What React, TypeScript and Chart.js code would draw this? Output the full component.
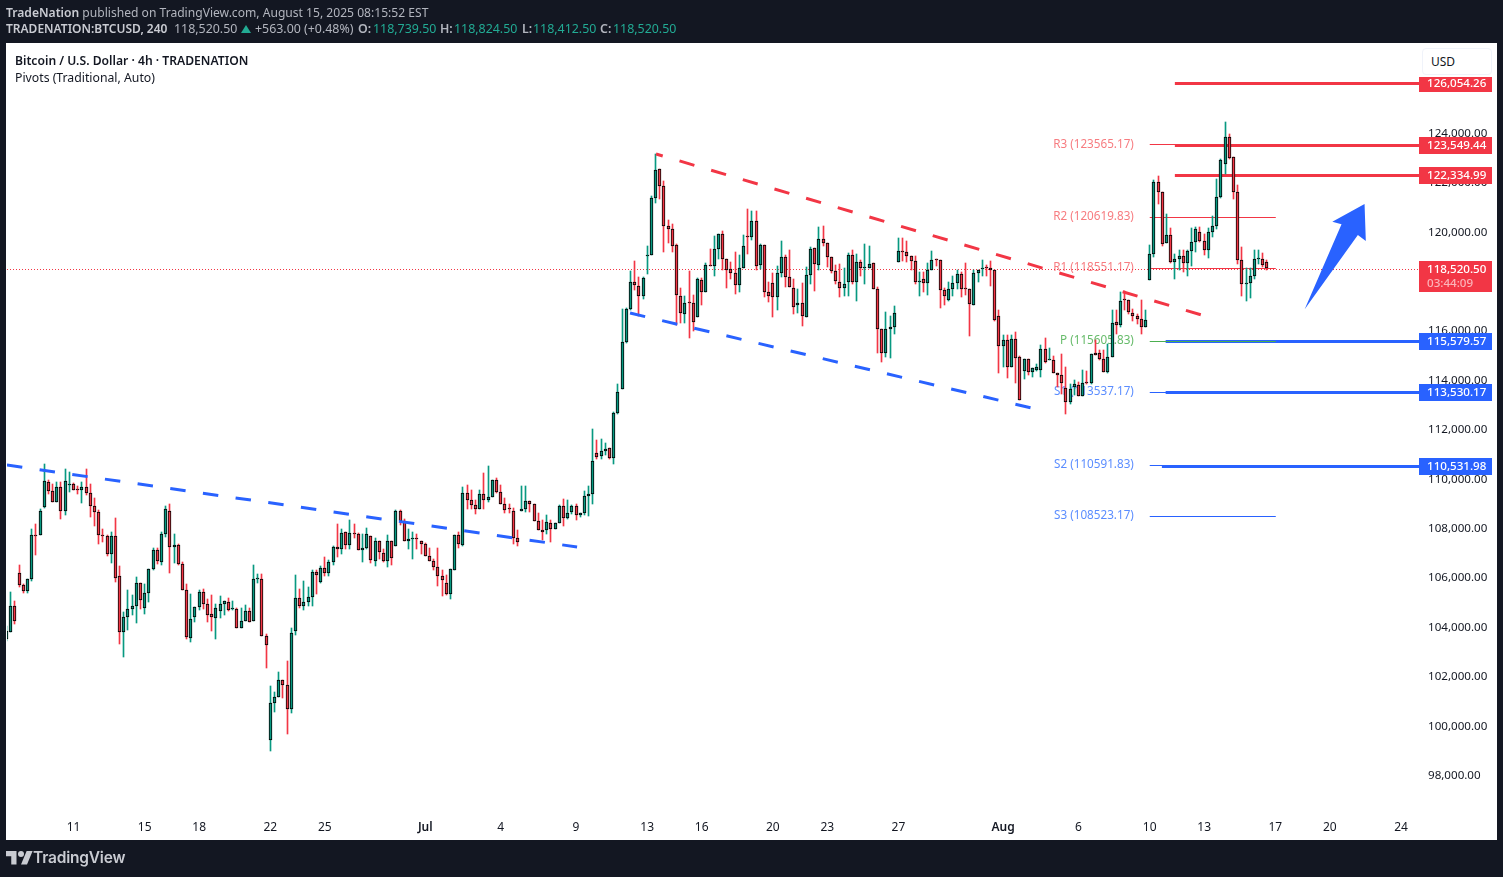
import { useEffect, useRef } from 'react';
import { Chart, registerables } from 'chart.js';

Chart.register(...registerables);

const FONT = '"Noto Sans", sans-serif';
const GREEN = '#089981';
const RED = '#F23645';
const BLUE = '#2962FF';

const opens = [
  103494,103764,104803,106166,105680,105424,105910,107705,107692,108826,
  109852,109488,109028,109650,108664,109730,109771,109540,109515,109650,
  109406,108880,108637,107710,107665,106923,107665,106045,103764,104384,
  104695,104830,105761,104749,105356,106315,107098,106612,107746,108677,
  107219,107300,106531,105478,103534,104371,104790,105397,104911,104506,
  104344,104614,104911,104992,104700,104710,103939,104222,104627,104222,
  105900,105924,103615,99403,100901,101144,101833,101630,100659,103817,
  105154,104816,104979,105195,106207,105775,106369,106153,106612,107219,
  107138,107827,107300,107786,107746,107098,107179,107665,106653,107462,
  106977,106653,107462,107260,108678,108272,107462,107525,107565,107462,
  107340,106855,106653,106410,106045,105761,105316,106288,107705,107300,
  109406,109123,108920,108758,109366,109123,109245,109933,109447,108961,
  108770,108678,107584,108678,108758,109082,108961,108272,107908,107908,
  108191,107948,108191,108880,108394,108637,108880,108515,108596,109285,
  109366,111026,110905,111108,111229,110810,112646,113605,115508,116858,
  117952,117790,117371,119005,119045,121354,122528,121840,120220,120098,
  119450,117385,116656,117120,117101,116534,118033,117547,118630,118600,
  119289,119896,118884,118479,118317,117830,118519,119800,119748,120422,
  118640,119450,117533,117911,117344,118317,118964,118155,117709,117007,
  117101,116534,118235,119329,118640,119694,119532,118964,118397,117952,
  117709,117952,119045,117952,118762,118500,118519,118722,117669,116049,
  115076,116049,116129,118762,119210,119167,119005,118802,117930,118073,
  117912,118438,118860,118843,117628,117223,117669,117912,118276,117690,
  117669,117020,118316,118452,118540,118519,118438,116575,115360,115603,
  114496,115644,114915,114347,114833,114307,114388,114388,115238,114775,
  114793,114267,114185,113632,113079,113686,113780,113335,113880,113862,
  115077,115077,114834,114294,114915,116332,116210,117240,117223,116696,
  116575,116453,116129,118033,119086,122002,121597,119531,119855,118762,
  118883,119005,118722,119207,119572,119977,119612,119248,119977,120220,
  121394,122731,123825,123001,121597,118843,117850,117898,118195,118860,118883,118739.5,
];

const highs = [
  104000,105370,105005,106464,105721,105924,107921,108124,108758,110554,
  109933,109744,109825,109852,110351,110230,109812,109663,109825,110351,
  109744,109177,108691,107921,107692,107800,108394,106423,104587,105451,
  105248,105978,105761,105694,106329,107179,107179,107827,108853,108934,
  107719,107340,106612,105694,105289,104790,105451,105492,105087,105249,
  104911,105208,105032,105154,105005,104749,104749,104843,104749,106464,
  106126,106099,103696,101563,101360,102130,101833,102575,103912,106059,
  105492,105815,105573,106261,106288,106450,106788,106693,107260,108124,
  107921,107827,108286,108151,107786,107719,107962,107665,107557,107462,
  107138,107680,107462,108718,108718,108353,107921,107800,107746,107462,
  107381,107152,106734,107152,106261,106059,106329,107705,107800,109636,
  109730,109501,109123,109528,110216,110500,109933,109987,109730,109204,
  108961,108799,107881,109663,109663,109082,108961,108596,108313,108488,
  108313,108191,108920,109164,109096,108920,108961,108596,109488,109690,
  111971,111526,111567,111432,111229,112687,113794,116831,116899,118370,
  118775,118128,118155,119410,121408,123136,122528,122042,120436,120274,
  119491,117709,117358,118370,117425,118114,118087,118721,119262,119788,
  119896,119990,118884,118762,119167,119045,119856,120908,120800,120827,
  119491,119450,117952,118317,118600,119586,119045,119221,118073,117642,
  117911,118559,119370,119329,120179,120220,119532,118964,118640,118681,
  118492,119126,119248,119086,118843,119464,119383,118722,117750,116049,
  116737,116575,116980,119734,119734,119612,119005,119005,118357,118357,
  118722,119208,118860,118843,117709,117952,118195,118438,118357,118722,
  117669,118438,118438,118843,118640,118802,118438,116818,115806,115806,
  115806,115927,114955,114833,114833,114469,114631,115400,115684,115279,
  114955,114267,115009,114496,113821,113956,113889,114388,114334,115036,
  115576,115198,115198,115441,116791,116791,117547,117587,117223,116859,
  116656,117223,116818,119423,122083,122245,121597,120706,120112,119086,
  119248,119221,119221,120139,120179,120179,119896,120139,120625,122124,
  122933,124432,123946,123001,121880,119370,118519,118519,119248,119248,119126,118824.5,
];

const lows = [
  103400,103764,104074,105586,105343,105343,105829,106869,107692,108785,
  109339,109028,109028,108326,108502,109420,109515,109366,108988,109312,
  108408,108043,107314,107408,106841,106558,105788,103264,102751,103831,
  104438,104128,104681,104492,104965,106288,106504,106463,107611,106153,
  106558,106477,105478,103466,103359,104168,104641,104695,104155,103790,
  103466,104331,104439,104614,104641,103939,103939,104222,104182,104222,
  105748,103615,102292,98971,100550,101144,101117,99660,100470,103628,
  104736,104641,104803,104803,105303,105748,106032,106032,106490,106788,
  106909,107112,107112,107570,107098,106585,107112,106545,106423,106707,
  106599,106383,106464,107260,108110,107462,107138,106707,107112,106909,
  106855,106653,106261,105613,105208,105249,105087,106288,107179,107233,
  108758,108758,108556,108758,108758,109015,109245,109407,108961,108596,
  108596,107314,107246,108678,108637,108637,108272,107908,107476,107746,
  107395,107948,108191,108043,108353,108556,108313,108434,108515,108475,
  108961,110784,110784,110946,110756,110568,112606,113605,115480,116818,
  117601,116561,117250,118249,119045,121138,121287,119154,119518,119154,
  116210,116291,116291,115684,115968,116534,117007,117547,118590,118182,
  118884,118438,117696,118073,117452,117533,118519,119059,119653,118438,
  118451,117331,117142,116521,116791,118128,117750,117750,116642,116696,
  116156,116534,117871,117574,118438,119410,118532,118317,117871,117317,
  117358,117358,117857,117169,118195,117844,118519,117669,115076,114698,
  114901,114860,115846,118762,118775,118762,118438,117871,117385,117520,
  117398,118438,118600,116886,117020,117183,117385,117669,117344,117398,
  115765,117020,117925,118195,118195,117763,116345,114239,114509,114050,
  114496,113848,113160,114010,114185,114104,114347,114104,114671,114775,
  114267,113686,113416,112606,113011,113349,113335,113335,113821,113821,
  114995,114793,114294,114267,114915,115846,116116,116791,116656,116372,
  116251,115846,116129,118033,118951,121111,119410,119531,118722,118073,
  118411,118357,118195,118587,119167,119572,119045,118924,119774,120099,
  121354,122326,122933,121313,118681,117385,117183,117304,118073,118681,118560,118412.5,
];

const closes = [
  103804,104803,104209,105667,105424,105924,107705,107665,108677,109892,
  109488,109028,109650,108664,109892,109771,109515,109500,109650,109406,
  108880,108637,107692,107670,106923,107665,105964,103764,104384,104709,
  104830,105761,105060,105356,106329,107098,106653,107746,108758,107219,
  107300,106518,105478,103561,104304,104790,105397,104911,104452,104384,
  104749,104911,105032,104655,104740,103939,104222,104627,104182,105924,
  105940,103615,103250,100901,101144,101833,101617,100659,103736,105154,
  104816,104992,105195,106207,106085,106369,106153,106612,107219,107138,
  107786,107300,107786,107733,107098,107179,107746,106693,107462,107017,
  106653,107462,106774,108678,108272,107462,107543,107565,107525,107340,
  106855,106653,106410,106045,105883,105316,106329,107705,107328,109406,
  109123,108920,108758,109366,109123,109245,109933,109447,108961,108718,
  108730,107584,107422,108758,109082,108961,108272,107908,107827,108232,
  107948,108191,108880,108394,108596,108880,108515,108596,109285,109366,
  110703,110851,111108,111188,110810,112646,113497,115522,116858,117952,
  117817,117371,118114,119045,121354,122488,121840,120220,120098,119410,
  117425,116696,117101,117080,116332,118073,117547,118640,118590,119289,
  119896,118884,118438,118317,117830,118519,119410,119760,120422,118600,
  119450,117547,117385,117344,118317,118964,118155,117750,116940,117101,
  116575,118235,119289,118681,119694,119532,118964,118397,117992,117709,
  117871,119045,117952,118762,118519,118540,118681,117669,116049,115076,
  116049,116129,116697,119208,119170,119005,118802,117952,117970,117912,
  118438,118843,118820,117628,117385,117669,117912,118276,117669,117650,
  117061,118316,118438,118519,118500,118438,116413,115360,115603,114496,
  115644,114874,113160,114833,114307,114469,114510,115238,114712,114815,
  114267,114185,113862,113079,113618,113821,113335,113862,113840,115036,
  114995,114834,114294,114915,116292,116210,117182,117200,116737,116575,
  116453,116129,116413,119086,122002,121597,119491,119855,118762,118883,
  119005,118722,119207,119572,120099,119612,119248,119977,120220,121394,
  122893,123825,122974,121597,118843,117871,117890,118195,118883,118900,118640,118520.5,
];

// time axis: candle index where each date label sits
const xTickIndexes = [16, 33, 46, 63, 76, 100, 118, 136, 153, 166, 183, 196, 213, 238, 256, 273, 286, 303, 316, 333];
const xTickLabels = ['11', '15', '18', '22', '25', 'Jul', '4', '9', '13', '16', '20', '23', '27', 'Aug', '6', '10', '13', '17', '20', '24'];
const yTickValues = [98000, 100000, 102000, 104000, 106000, 108000, 110000, 112000, 114000, 116000, 118000, 120000, 122000, 124000];

const X_MIN = 0.115;
const X_MAX = 337.3;
const Y_MIN = 96409;
const Y_MAX = 127664;
const LAST_PRICE = 118520.5;

// pivots indicator
const pivotNames = ['R3', 'R2', 'R1', 'P', 'S1', 'S2', 'S3'];
const pivotValues = [123565.17, 120619.83, 118551.17, 115605.83, 113537.17, 110591.83, 108523.17];
const pivotColors = [RED, RED, RED, '#4CAF50', BLUE, BLUE, BLUE];
const pivotTextColors = ['#F77C80', '#F77C80', '#F77C80', '#66BB6A', '#5B8DFF', '#5B8DFF', '#5B8DFF'];

// hand-drawn horizontal levels
const levelValues = [126054.26, 123549.44, 122334.99, 115579.57, 113530.17, 110531.98];
const levelStarts = [279, 279, 279, 276.8, 276.8, 275.9];
const levelColors = [RED, RED, RED, BLUE, BLUE, BLUE];

// trend lines [index, price]
const blueTrendA = [[0.1, 110578], [136.25, 107259]];
const blueTrendB = [[148.9, 116732], [244.8, 112886]];
const redTrend = [[155.1, 123170], [285.4, 116651]];

const arrowIndexes = [310, 318.8, 316.6, 324.3, 324.6, 322.7];
const arrowPrices = [116882, 120323, 120429, 121145, 119647, 119890];

const fmt = (v: number) => v.toLocaleString('en-US', { minimumFractionDigits: 2, maximumFractionDigits: 2 });

const trendDataset = (pts: number[][], color: string, dashOffset = 0) => ({
  type: 'line' as const,
  data: pts.map(p => ({ x: p[0], y: p[1] })),
  borderColor: color,
  borderWidth: 3,
  borderDash: [15.5, 17.5],
  borderDashOffset: dashOffset,
  pointRadius: 0,
  order: 1,
});

const overlayPlugin = {
  id: 'overlay',
  beforeDraw(chart: any) {
    const { ctx } = chart;
    ctx.save();
    ctx.fillStyle = '#ffffff';
    ctx.fillRect(6, 43, 1491, 797);
    ctx.restore();
  },
  afterDatasetsUpdate(chart: any) {
    // snap everything to the pixel grid like the trading terminal does
    chart.data.datasets.forEach((ds: any, idx: number) => {
      const points = chart.getDatasetMeta(idx).data;
      if (ds.type === 'line') {
        if (ds.snap) points.forEach((el: any) => { el.y = Math.round(el.y) + 0.5; });
        return;
      }
      points.forEach((el: any) => {
        el.x = Math.floor(el.x) + 0.5;
        // candle prices were read a little low, nudge them back up to the picture
        el.y = Math.round(el.y - 1.2);
        el.base = Math.round(el.base - 1.2);
        if (el.base - el.y < 1) el.base = el.y + 1;
        el.height = el.base - el.y;
      });
    });
  },
  beforeDatasetsDraw(chart: any) {
    const { ctx, scales } = chart;
    ctx.save();
    ctx.font = `11.7px ${FONT}`;
    ctx.textAlign = 'right';
    ctx.textBaseline = 'middle';
    pivotNames.forEach((name, i) => {
      ctx.fillStyle = pivotTextColors[i];
      ctx.fillText(`${name} (${pivotValues[i].toFixed(2)})`, scales.x.getPixelForValue(269.2), scales.y.getPixelForValue(pivotValues[i]));
    });
    ctx.restore();
  },
  afterDraw(chart: any) {
    const { ctx, scales } = chart;
    const { x, y } = scales;
    ctx.save();
    // arrow
    ctx.fillStyle = BLUE;
    ctx.beginPath();
    arrowIndexes.forEach((v, i) => {
      const px = x.getPixelForValue(v);
      const py = y.getPixelForValue(arrowPrices[i]);
      if (i === 0) ctx.moveTo(px, py);
      else ctx.lineTo(px, py);
    });
    ctx.closePath();
    ctx.fill();

    // price tags
    ctx.font = `500 11.6px ${FONT}`;
    ctx.textAlign = 'left';
    ctx.textBaseline = 'middle';
    levelValues.forEach((v, i) => {
      const py = Math.round(y.getPixelForValue(v));
      ctx.fillStyle = levelColors[i];
      ctx.fillRect(1419, py - 8, 73, 17);
      ctx.fillStyle = '#ffffff';
      ctx.fillText(fmt(v), 1427, py + 1);
    });
    const lastY = Math.round(y.getPixelForValue(LAST_PRICE));
    ctx.fillStyle = RED;
    ctx.fillRect(1419, lastY - 8, 73, 31);
    ctx.fillStyle = '#ffffff';
    ctx.fillText(fmt(LAST_PRICE), 1427, lastY + 1);
    ctx.fillStyle = '#FBB4B9';
    ctx.fillText('03:44:09', 1427, lastY + 15);
    ctx.restore();
  },
};

const strong = { fontWeight: 600, color: '#C9CBD2' };
const at = (left: number) => ({ position: 'absolute' as const, left, top: 0 });
const TEAL = '#22AB94';

export default function App() {
  const canvasRef = useRef<HTMLCanvasElement>(null);

  useEffect(() => {
    if (!canvasRef.current) return;
    const idx = opens.map((_, i) => i);
    const candleColor = idx.map(i => (closes[i] >= opens[i] ? GREEN : RED));

    const chart = new Chart(canvasRef.current, {
      type: 'bar',
      data: {
        datasets: [
          // levels and pivots sit under the candles
          ...levelValues.map((v, i) => ({
            type: 'line' as const,
            data: [{ x: levelStarts[i], y: v }, { x: X_MAX, y: v }],
            borderColor: levelColors[i],
            borderWidth: 3,
            pointRadius: 0,
            snap: true,
            order: 6,
          })),
          ...pivotValues.map((v, i) => ({
            type: 'line' as const,
            data: [{ x: 273, y: v }, { x: 303.1, y: v }],
            borderColor: pivotColors[i],
            borderWidth: 1,
            pointRadius: 0,
            snap: true,
            order: 5,
          })),
          {
            type: 'line' as const,
            data: [{ x: X_MIN, y: LAST_PRICE }, { x: X_MAX, y: LAST_PRICE }],
            borderColor: RED,
            borderWidth: 1,
            borderDash: [1, 2],
            pointRadius: 0,
            snap: true,
            order: 4,
          },
          {
            data: idx.map(i => ({ x: i, y: [lows[i], highs[i]] })),
            backgroundColor: candleColor,
            barThickness: 1,
            order: 3,
          },
          {
            data: idx.map(i => ({ x: i, y: [Math.min(opens[i], closes[i]), Math.max(opens[i], closes[i])] })),
            backgroundColor: candleColor,
            borderColor: '#000000',
            borderWidth: 1,
            borderSkipped: false,
            barThickness: 3,
            order: 2,
          },
          trendDataset(blueTrendA, BLUE),
          trendDataset(blueTrendB, BLUE),
          trendDataset(redTrend, RED, 8.5),
        ] as any,
      },
      options: {
        responsive: false,
        devicePixelRatio: 1,
        animation: false,
        layout: { padding: { left: 7, top: 43, right: 6, bottom: 37 } },
        datasets: { bar: { grouped: false } },
        plugins: { legend: { display: false }, tooltip: { enabled: false } },
        scales: {
          x: {
            type: 'linear',
            min: X_MIN,
            max: X_MAX,
            offset: false,
            grid: { display: false, drawTicks: false },
            border: { display: false },
            afterFit: (s: any) => { s.height = 25; },
            afterBuildTicks: (s: any) => { s.ticks = xTickIndexes.map(v => ({ value: v })); },
            ticks: {
              autoSkip: false,
              maxRotation: 0,
              padding: 5,
              color: '#131722',
              font: (c: any) => {
                const name = xTickLabels[xTickIndexes.indexOf(c.tick?.value)];
                return { family: FONT, size: 12, weight: name === 'Jul' || name === 'Aug' ? 600 : 400 };
              },
              callback: (v: any) => xTickLabels[xTickIndexes.indexOf(v)],
            },
          },
          y: {
            type: 'linear',
            position: 'right',
            min: Y_MIN,
            max: Y_MAX,
            grid: { display: false, drawTicks: false },
            border: { display: false },
            afterFit: (s: any) => { s.width = 78; },
            afterBuildTicks: (s: any) => { s.ticks = yTickValues.map(v => ({ value: v })); },
            ticks: {
              padding: 9,
              color: '#131722',
              font: { family: FONT, size: 11.6 },
              callback: (v: any) => fmt(v),
            },
          },
        },
      } as any,
      plugins: [overlayPlugin],
    });

    return () => {
      chart.destroy();
    };
  }, []);

  return (
    <div style={{ position: 'fixed', inset: 0, width: 1503, height: 877, background: '#131722', fontFamily: FONT, fontSize: 12, overflow: 'hidden' }}>
      <canvas ref={canvasRef} width={1503} height={877} style={{ position: 'absolute', left: 0, top: 0, width: 1503, height: 877 }} />

      <div style={{ position: 'absolute', left: 6, top: 5, whiteSpace: 'nowrap', color: '#B2B5BE', lineHeight: '16px', fontSize: 12.1 }}>
        <b style={strong}>TradeNation</b> published on TradingView.com, August 15, 2025 08:15:52 EST
      </div>
      <div style={{ position: 'absolute', left: 6, top: 21, width: 700, height: 16, whiteSpace: 'nowrap', color: '#B2B5BE', lineHeight: '16px', fontSize: 12.4 }}>
        <b style={{ ...strong, fontSize: 12, ...at(0) }}>TRADENATION:BTCUSD, 240</b>
        <span style={at(168)}>118,520.50</span>
        <span style={{ position: 'absolute', left: 235, top: 4, width: 0, height: 0, borderLeft: '5px solid transparent', borderRight: '5px solid transparent', borderBottom: `8px solid ${TEAL}` }} />
        <span style={at(249)}>+563.00 (+0.48%)</span>
        <b style={{ fontWeight: 600, ...at(352) }}>O:</b><span style={{ color: TEAL, ...at(367) }}>118,739.50</span>
        <b style={{ fontWeight: 600, ...at(434) }}>H:</b><span style={{ color: TEAL, ...at(448) }}>118,824.50</span>
        <b style={{ fontWeight: 600, ...at(516) }}>L:</b><span style={{ color: TEAL, ...at(527) }}>118,412.50</span>
        <b style={{ fontWeight: 600, ...at(594) }}>C:</b><span style={{ color: TEAL, ...at(607) }}>118,520.50</span>
      </div>

      <div style={{ position: 'absolute', left: 15, top: 53, whiteSpace: 'nowrap', color: '#131722', fontWeight: 600, lineHeight: '16px', fontSize: 12.15 }}>
        Bitcoin / U.S. Dollar · 4h · TRADENATION
      </div>
      <div style={{ position: 'absolute', left: 15, top: 70, whiteSpace: 'nowrap', color: '#131722', lineHeight: '16px', fontSize: 12.25 }}>
        Pivots (Traditional, Auto)
      </div>

      <div style={{ position: 'absolute', left: 1419, top: 44, width: 78, height: 33, background: '#ffffff' }}>
        <div style={{ position: 'absolute', left: 3, top: 4, width: 68, height: 25, border: '1px solid #F0F3FA', borderRadius: 4, color: '#131722', lineHeight: '26px', textIndent: 8 }}>
          USD
        </div>
      </div>

      <svg viewBox="0 0 36 28" width={27} height={21} style={{ position: 'absolute', left: 6, top: 848 }}>
        <path d="M14 22H7V11H0V4h14v18zM28 22h-8l7.5-18h8L28 22z" fill="#C9CBD2" />
        <circle cx="20" cy="8" r="4" fill="#C9CBD2" />
      </svg>
      <div style={{ position: 'absolute', left: 33, top: 847, color: '#C9CBD2', fontFamily: 'Inter, sans-serif', fontWeight: 600, fontSize: 15.5, lineHeight: '22px', letterSpacing: -0.2 }}>
        TradingView
      </div>
    </div>
  );
}
